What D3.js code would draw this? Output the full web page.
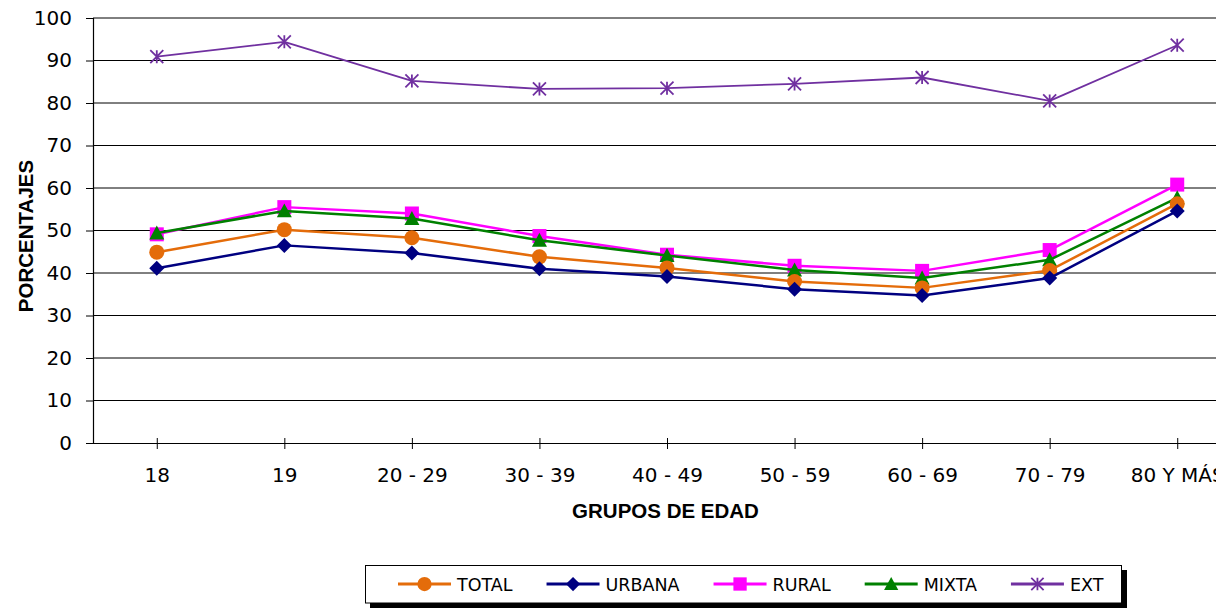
<!DOCTYPE html>
<html><head><meta charset="utf-8">
<script src="https://cdn.jsdelivr.net/npm/d3@7"></script>
<style>
html,body{margin:0;padding:0;background:#fff;}
svg{display:block;overflow:hidden;}
</style></head>
<body>
<script>
const categories = ["18","19","20 - 29","30 - 39","40 - 49","50 - 59","60 - 69","70 - 79","80 Y MÁS"];
const yTicks = [0,10,20,30,40,50,60,70,80,90,100];
const seriesNames = ["TOTAL","URBANA","RURAL","MIXTA","EXT"];
const total  = [44.9, 50.2, 48.3, 43.8, 41.2, 38.0, 36.5, 40.6, 56.3];
const urbana = [41.1, 46.5, 44.7, 41.0, 39.2, 36.2, 34.7, 38.8, 54.6];
const rural  = [49.1, 55.5, 54.0, 48.7, 44.3, 41.7, 40.5, 45.4, 60.8];
const mixta  = [49.4, 54.6, 52.8, 47.7, 44.1, 40.7, 38.8, 43.1, 57.7];
const ext    = [90.9, 94.4, 85.2, 83.3, 83.5, 84.5, 86.0, 80.5, 93.6];

const styles = {
  TOTAL:  {color:"#E46C0A", marker:"circle",  lw:2.5},
  URBANA: {color:"#000080", marker:"diamond", lw:2.5},
  RURAL:  {color:"#FF00FF", marker:"square",  lw:2.5},
  MIXTA:  {color:"#008000", marker:"triangle",lw:2.5},
  EXT:    {color:"#7030A0", marker:"star",    lw:1.8}
};
const values = {TOTAL:total, URBANA:urbana, RURAL:rural, MIXTA:mixta, EXT:ext};

const W = 1216, H = 609;
const svg = d3.select("body").append("svg").attr("width", W).attr("height", H);

const pLeft = 93, pTop = 18, pBottom = 443, pRight = 1241;
const x = d3.scalePoint().domain(categories).range([pLeft, pRight]).padding(0.5);
const y = d3.scaleLinear().domain([0,100]).range([pBottom, pTop]);

const tickFont = "'DejaVu Sans', Verdana, sans-serif";

// gridlines
svg.append("g").selectAll("line").data(yTicks.filter(d=>d>0)).join("line")
  .attr("x1", pLeft).attr("x2", pRight).attr("y1", d=>y(d)).attr("y2", d=>y(d))
  .attr("stroke", "#000").attr("stroke-width", 1);

// y axis
const yAxis = svg.append("g").attr("transform", `translate(${pLeft},0)`)
  .call(d3.axisLeft(y).tickValues(yTicks).tickSize(7).tickPadding(14));
yAxis.select(".domain").attr("stroke","#000").attr("stroke-width",1.2);
yAxis.selectAll(".tick line").attr("stroke","#000");
yAxis.selectAll("text").attr("font-family", tickFont).attr("font-size", 20).attr("fill","#000");

// x axis
const xAxis = svg.append("g").attr("transform", `translate(0,${pBottom})`)
  .call(d3.axisBottom(x).tickSize(5).tickSizeOuter(0).tickPadding(20));
xAxis.select(".domain").attr("stroke","#000").attr("stroke-width",1.2);
xAxis.selectAll(".tick line").attr("stroke","#000").attr("y1",-5).attr("y2",6);
xAxis.selectAll("text").attr("font-family", tickFont).attr("font-size", 20).attr("fill","#000");

// axis titles
const boldFont = "'Liberation Sans', Arial, sans-serif";
svg.append("text").attr("x", 665.5).attr("y", 517.5).attr("text-anchor","middle")
  .attr("font-family", boldFont).attr("font-weight","bold").attr("font-size", 20.5).text("GRUPOS DE EDAD");
svg.append("text").attr("transform","translate(32.5,236) rotate(-90)").attr("text-anchor","middle")
  .attr("font-family", boldFont).attr("font-weight","bold").attr("font-size", 20.5).text("PORCENTAJES");

function drawMarker(g, type, color, cx, cy, scale=1){
  const s = scale;
  if(type==="circle"){
    g.append("circle").attr("cx",cx).attr("cy",cy).attr("r",7.5*s).attr("fill",color);
  } else if(type==="diamond"){
    const r=7.5*s;
    g.append("path").attr("d",`M${cx},${cy-r}L${cx+r},${cy}L${cx},${cy+r}L${cx-r},${cy}Z`).attr("fill",color);
  } else if(type==="square"){
    const r=7*s;
    g.append("rect").attr("x",cx-r).attr("y",cy-r).attr("width",2*r).attr("height",2*r).attr("fill",color);
  } else if(type==="triangle"){
    const r=7.5*s;
    g.append("path").attr("d",`M${cx},${cy-r}L${cx+r},${cy+r*0.85}L${cx-r},${cy+r*0.85}Z`).attr("fill",color);
  } else if(type==="star"){
    const r=6.5*s;
    g.append("path").attr("d",`M${cx-r},${cy-r}L${cx+r},${cy+r}M${cx+r},${cy-r}L${cx-r},${cy+r}M${cx},${cy-r}L${cx},${cy+r}`)
      .attr("stroke",color).attr("stroke-width",1.8).attr("fill","none");
  }
}

const drawOrder = ["EXT","RURAL","MIXTA","TOTAL","URBANA"];
const line = d3.line().x((d,i)=>x(categories[i])).y(d=>y(d));
drawOrder.forEach(name=>{
  const st = styles[name];
  const g = svg.append("g");
  g.append("path").datum(values[name]).attr("d", line).attr("fill","none")
    .attr("stroke", st.color).attr("stroke-width", st.lw).attr("stroke-linejoin","round");
  values[name].forEach((v,i)=>drawMarker(g, st.marker, st.color, x(categories[i]), y(v)));
});

// legend
const lg = svg.append("g");
lg.append("rect").attr("x",370).attr("y",570).attr("width",757).attr("height",38).attr("fill","#000");
lg.append("rect").attr("x",365.5).attr("y",565.5).attr("width",756).attr("height",37.5)
  .attr("fill","#fff").attr("stroke","#000").attr("stroke-width",1);
let lx = 398;
const ly = 584;
seriesNames.forEach(name=>{
  const st = styles[name];
  lg.append("line").attr("x1",lx).attr("x2",lx+53).attr("y1",ly).attr("y2",ly)
    .attr("stroke",st.color).attr("stroke-width",3);
  drawMarker(lg, st.marker, st.color, lx+26.5, ly, 0.95);
  const t = lg.append("text").attr("x",lx+59).attr("y",ly+6.5)
    .attr("font-family",tickFont).attr("font-size",17.5).attr("fill","#000").text(name);
  lx += 53 + 6 + t.node().getComputedTextLength() + 34;
});
</script>
</body></html>
